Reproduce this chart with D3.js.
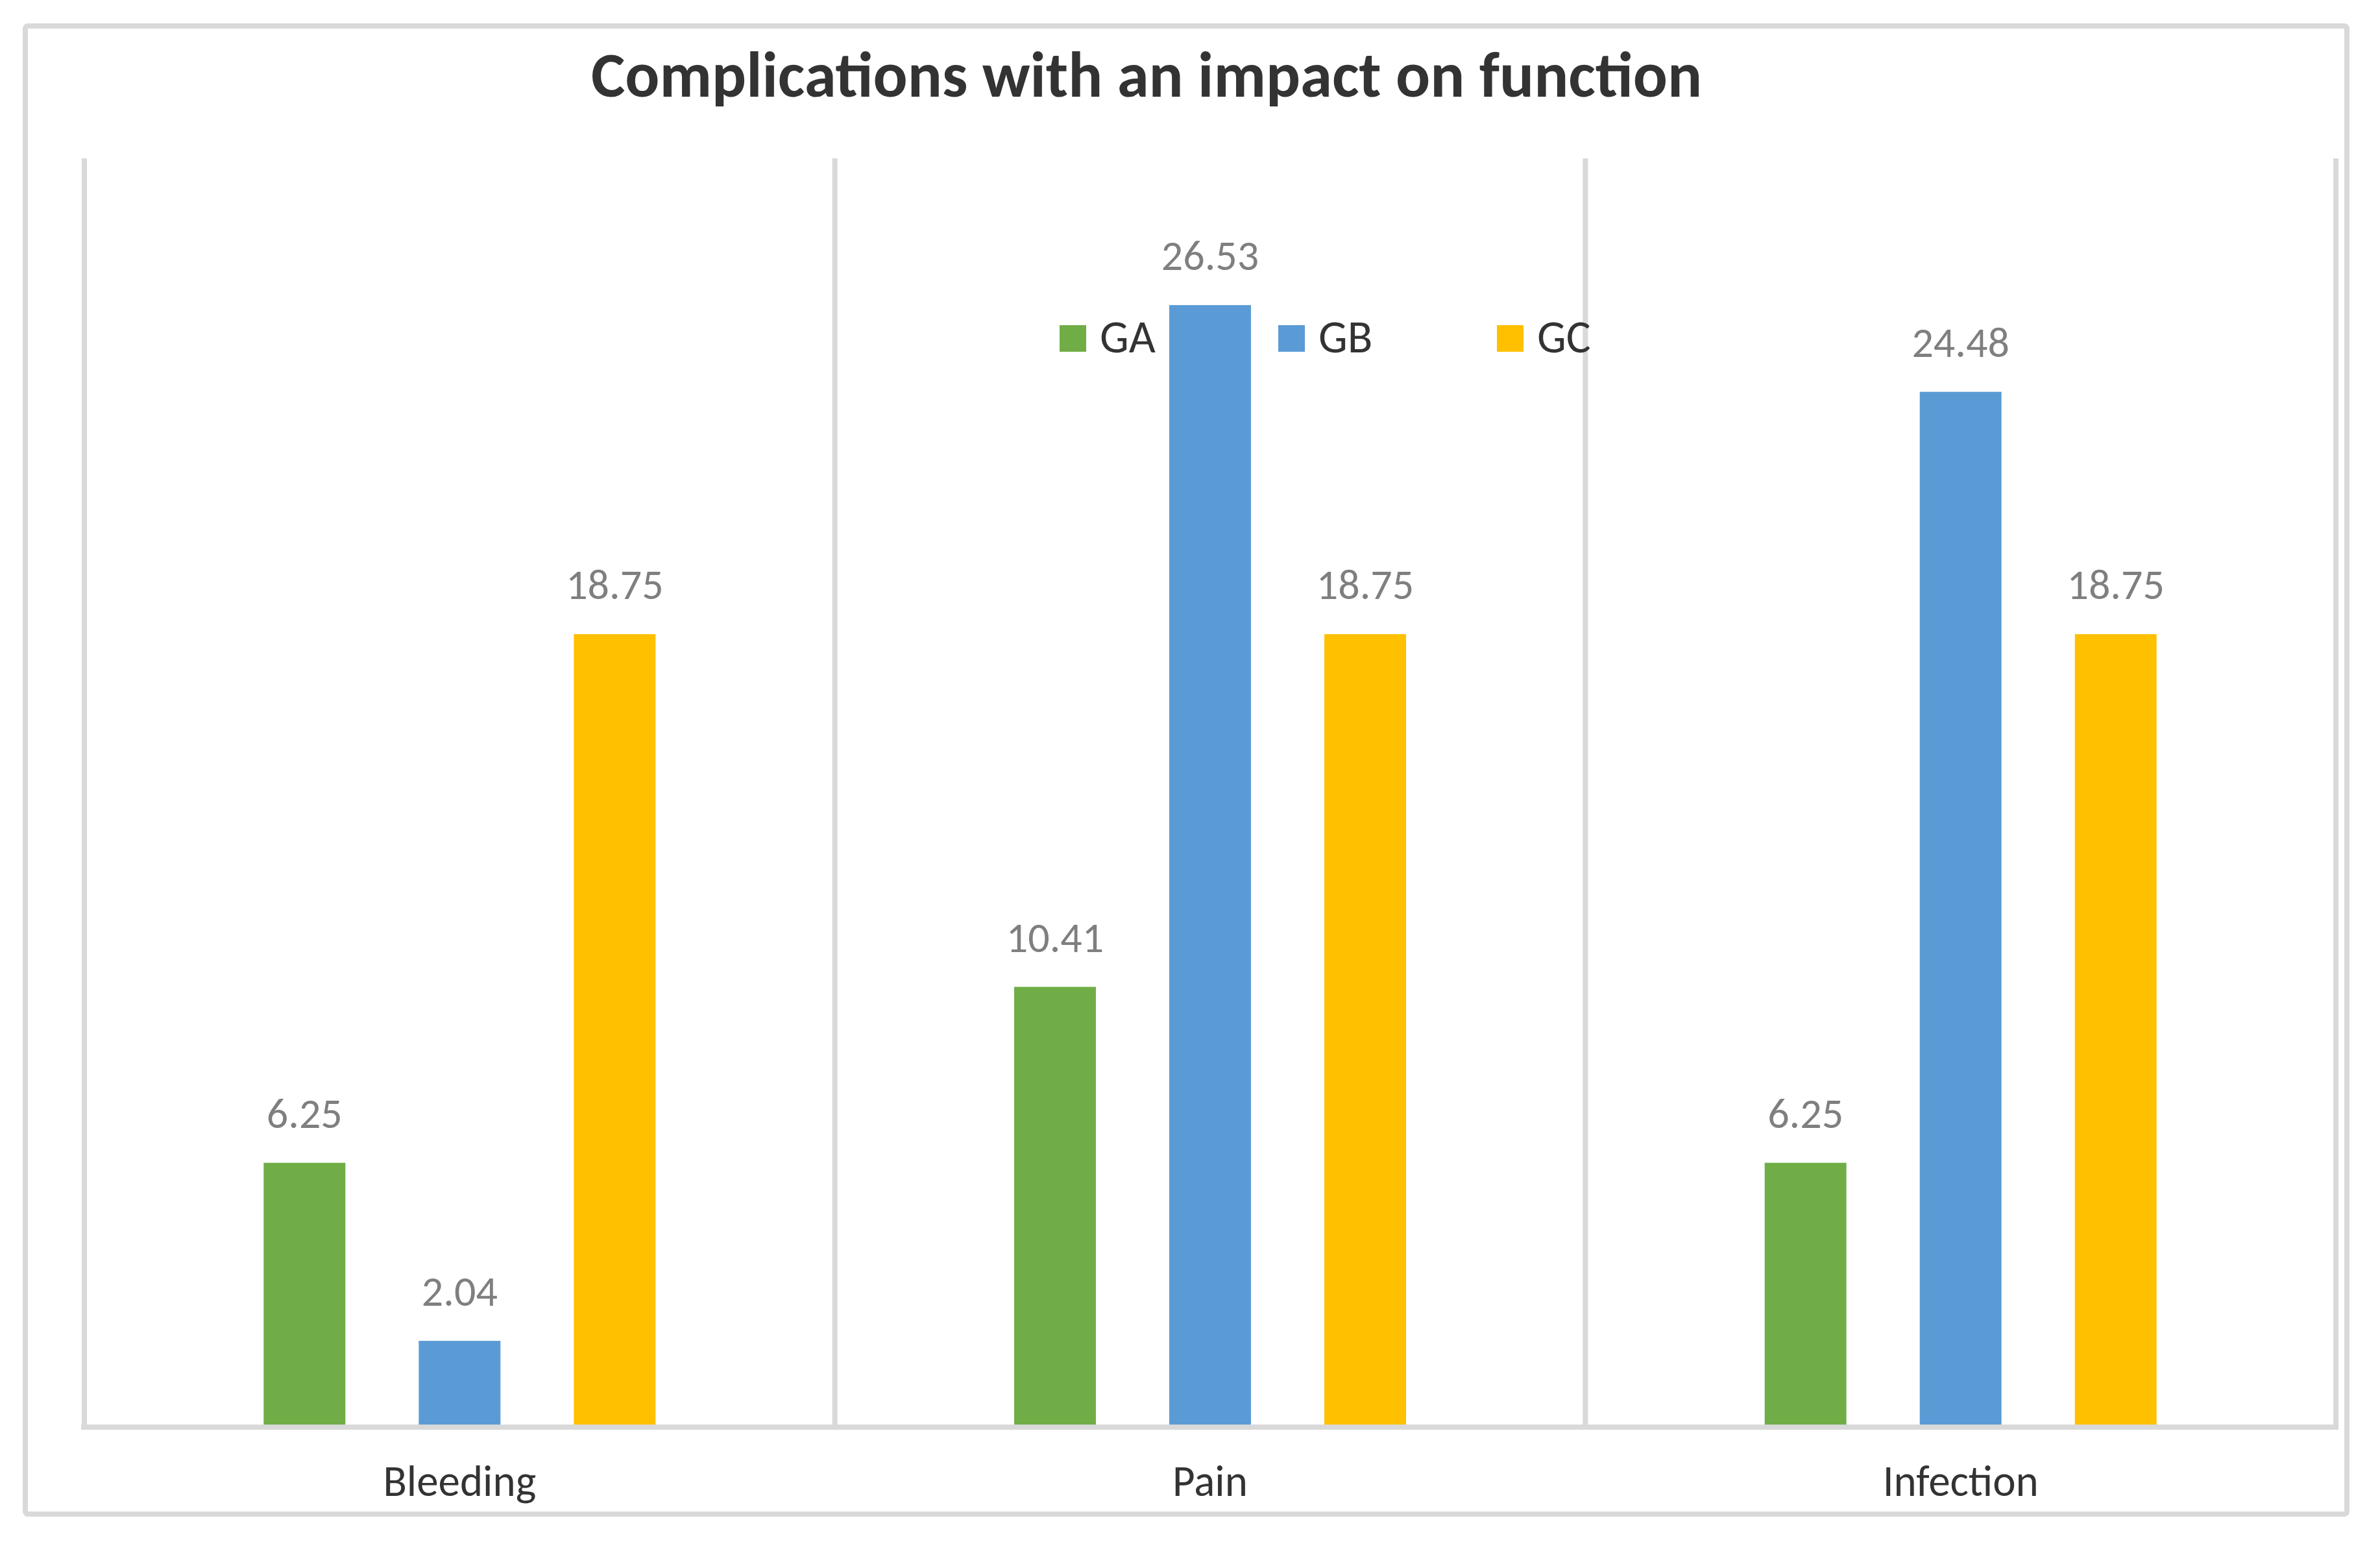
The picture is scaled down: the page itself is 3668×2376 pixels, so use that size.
<!DOCTYPE html>
<html>
<head>
<meta charset="utf-8">
<script src="https://cdn.jsdelivr.net/npm/d3@7"></script>
<style>
  body { margin: 0; background: #fff; }
  svg { display: block; }
  text { font-family: Carlito, Lato, sans-serif; }
</style>
</head>
<body>
<div id="chart"></div>
<script>
const W = 3668, H = 2376;

// chart data
const title = "Complications with an impact on function";
const categories = ["Bleeding", "Pain", "Infection"];
const seriesNames = ["GA", "GB", "GC"];
const GA = [6.25, 10.41, 6.25];
const GB = [2.04, 26.53, 24.48];
const GC = [18.75, 18.75, 18.75];
const seriesColors = ["#70ad47", "#5b9bd5", "#ffc000"];
const yMax = 30;

const seriesValues = [GA, GB, GC];

const plot = {left: 130, right: 3600, top: 244, bottom: 2199};
const grid = "#d9d9d9";

const svg = d3.select("#chart")
  .append("svg")
  .attr("width", W)
  .attr("height", H);

svg.append("rect")
  .attr("width", W).attr("height", H)
  .attr("fill", "#fff");

// outer chart border
svg.append("rect")
  .attr("x", 39).attr("y", 40)
  .attr("width", 3617 - 39).attr("height", 2333 - 40)
  .attr("rx", 4)
  .attr("fill", "#fff")
  .attr("stroke", grid)
  .attr("stroke-width", 8);

const x = d3.scaleBand()
  .domain(categories)
  .range([plot.left, plot.right])
  .paddingInner(0)
  .paddingOuter(0);

const xs = d3.scaleBand()
  .domain(seriesNames)
  .range([0, x.bandwidth()])
  .paddingInner(0.473)
  .paddingOuter(1.156);

const y = d3.scaleLinear()
  .domain([0, yMax])
  .range([plot.bottom, plot.top]);

// vertical gridlines at category boundaries
const bounds = d3.range(categories.length + 1).map(i => plot.left + i * x.step());
svg.append("g")
  .selectAll("line")
  .data(bounds)
  .enter()
  .append("line")
  .attr("x1", d => d).attr("x2", d => d)
  .attr("y1", plot.top).attr("y2", plot.bottom)
  .attr("stroke", grid)
  .attr("stroke-width", 8);

// bars
const cells = [];
categories.forEach((c, ci) => {
  seriesNames.forEach((s, si) => {
    cells.push({cat: c, series: s, value: seriesValues[si][ci], color: seriesColors[si]});
  });
});

svg.append("g")
  .selectAll("rect")
  .data(cells)
  .enter()
  .append("rect")
  .attr("x", d => x(d.cat) + xs(d.series))
  .attr("y", d => y(d.value))
  .attr("width", xs.bandwidth())
  .attr("height", d => y(0) - y(d.value))
  .attr("fill", d => d.color);

// value labels
svg.append("g")
  .selectAll("text")
  .data(cells)
  .enter()
  .append("text")
  .attr("x", d => x(d.cat) + xs(d.series) + xs.bandwidth() / 2)
  .attr("y", d => y(d.value) - 54)
  .attr("text-anchor", "middle")
  .attr("font-size", 66)
  .attr("fill", "#7f7f7f")
  .text(d => d.value.toFixed(2));

// horizontal axis line
svg.append("line")
  .attr("x1", plot.left - 5).attr("x2", plot.right + 4)
  .attr("y1", y(0)).attr("y2", y(0))
  .attr("stroke", grid)
  .attr("stroke-width", 8);

// category labels
const xAxis = svg.append("g")
  .attr("transform", "translate(0," + y(0) + ")")
  .call(d3.axisBottom(x).tickSize(0));
xAxis.select(".domain").remove();
xAxis.selectAll("text")
  .attr("y", 106)
  .attr("dy", 0)
  .attr("font-size", 67)
  .attr("font-family", "Carlito, Lato, sans-serif")
  .attr("fill", "#333");

// title
svg.append("text")
  .attr("x", 1767)
  .attr("y", 149)
  .attr("text-anchor", "middle")
  .attr("font-size", 99)
  .attr("font-weight", "bold")
  .attr("fill", "#333")
  .text(title);

// legend
const lg = d3.scalePoint()
  .domain(seriesNames)
  .range([1633, 2307]);

const legend = svg.append("g")
  .selectAll("g")
  .data(seriesNames)
  .enter()
  .append("g")
  .attr("transform", d => "translate(" + lg(d) + ",501)");

legend.append("rect")
  .attr("width", 41).attr("height", 41)
  .attr("fill", (d, i) => seriesColors[i]);

legend.append("text")
  .attr("x", 62)
  .attr("y", 42)
  .attr("font-size", 71)
  .attr("fill", "#333")
  .text(d => d);
</script>
</body>
</html>
